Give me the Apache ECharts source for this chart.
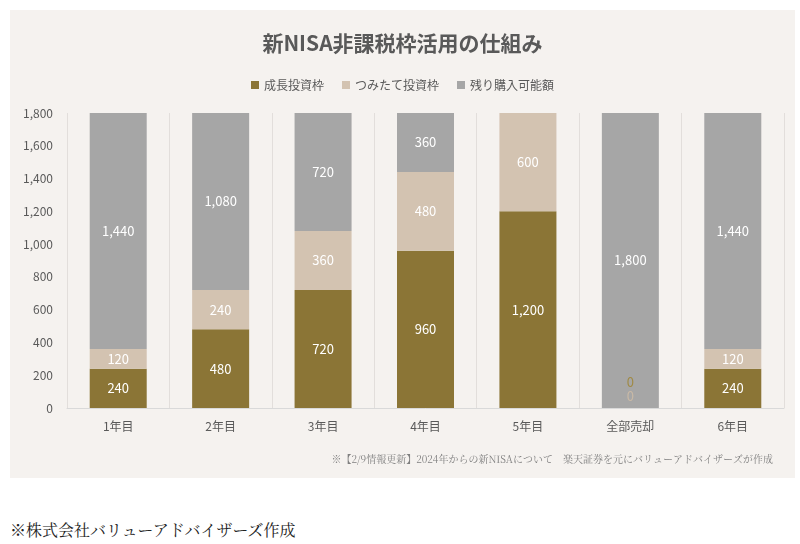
<!DOCTYPE html><html><head><meta charset="utf-8"><script src="https://cdn.jsdelivr.net/npm/echarts@6/dist/echarts.min.js"></script>
<style>body{margin:0;background:#fff}#c{position:absolute;left:10px;top:10px;width:785px;height:468px;background:#f5f2ef}#n{position:absolute;left:10px;top:518px;font-family:"Noto Serif CJK JP","Noto Sans CJK JP",serif;font-size:16px;color:#222}</style></head><body>
<div id="c"></div><div id="n">※株式会社バリューアドバイザーズ作成</div>
<script>
const categories=['1年目','2年目','3年目','4年目','5年目','全部売却','6年目'];
const growth=[240,480,720,960,1200,0,240];
const tsumitate=[120,240,360,480,600,0,120];
const remaining=[1440,1080,720,360,0,1800,1440];
const yTicks=[0,200,400,600,800,1000,1200,1400,1600,1800];
const chart=echarts.init(document.getElementById('c'));
const font='"Noto Sans CJK JP"';
function mk(name,vals,color,zeroLabelColor,zeroOffset){
 return {name,type:'bar',stack:'a',barWidth:57,itemStyle:{color},
  label:{show:true,color:'#fff',fontSize:13,fontFamily:font,formatter:p=>p.value.toLocaleString('en-US')},
  data:vals.map((v,i)=>{
   if(v===0&&zeroLabelColor&&categories[i]==='全部売却')return {value:0,label:{position:'insideBottom',color:zeroLabelColor,offset:[0,zeroOffset]}};
   if(v===0)return {value:0,label:{show:false}};
   return v;})};
}
chart.setOption({
 title:{text:'新NISA非課税枠活用の仕組み',left:'center',top:18,textStyle:{fontFamily:font,fontSize:21,fontWeight:'bold',color:'#595959'}},
 legend:{top:64,itemWidth:8,itemHeight:8,icon:'rect',itemGap:18,textStyle:{fontFamily:font,fontSize:12,color:'#595959'}},
 grid:{left:57,right:11,top:103,bottom:70},
 xAxis:{type:'category',data:categories,axisTick:{show:false},axisLine:{lineStyle:{color:'#d9d9d9'}},
  splitLine:{show:true,lineStyle:{color:'#e2dedb'}},axisLabel:{fontFamily:font,fontSize:12,color:'#595959',margin:12}},
 yAxis:{type:'value',min:0,max:1800,interval:200,splitLine:{show:false},
  axisLabel:{fontFamily:font,fontSize:12,color:'#595959',margin:14,formatter:v=>v.toLocaleString('en-US')}},
 series:[mk('成長投資枠',growth,'#8b7536','#a08a45',-14),mk('つみたて投資枠',tsumitate,'#d3c3b1','#c9b9a6',0),mk('残り購入可能額',remaining,'#a6a6a6')],
 graphic:[{type:'text',right:22,top:444,style:{text:'※【2/9情報更新】2024年からの新NISAについて　楽天証券を元にバリューアドバイザーズが作成',font:'10px "Noto Serif CJK JP", serif',fill:'#7f7f7f'}}]
});
</script></body></html>
